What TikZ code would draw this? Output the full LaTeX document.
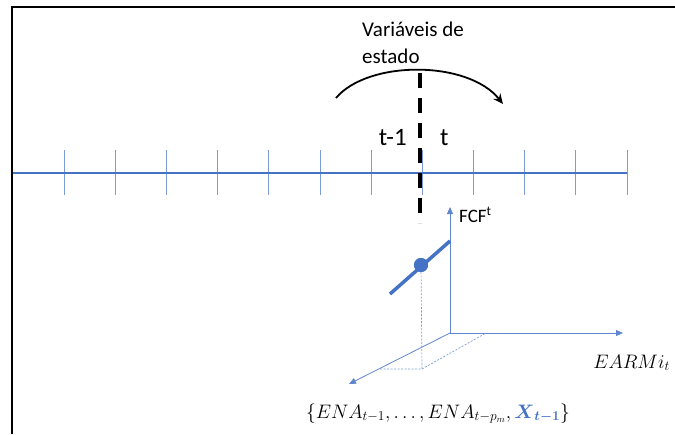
\documentclass[tikz,border=0pt]{standalone}
\usepackage{amsmath}
\usepackage{graphicx}
\usepackage{fontspec}
\setmainfont{Carlito}
\usetikzlibrary{arrows.meta}
\definecolor{ofblue}{HTML}{4472C4}
\tikzset{
  frame/.style={line width=2pt, black},
  timeline/.style={line width=2.4pt, ofblue},
  tick/.style={line width=0.7pt, ofblue!70},
  axis/.style={line width=0.8pt, ofblue!85, -{Triangle[length=7pt,width=6pt]}},
  proj/.style={line width=0.7pt, ofblue!70, dash pattern=on 2pt off 1.5pt},
  sep/.style={line width=3.5pt, black, dash pattern=on 15pt off 10pt},
  arc/.style={line width=1.8pt, black, -{Stealth[length=10pt,width=9pt]}},
  curve/.style={line width=3.5pt, ofblue},
  lbl/.style={inner sep=0pt, text=black}
}
\begin{document}
\begin{tikzpicture}[x=1pt,y=-1pt]
\useasboundingbox (0,0) rectangle (675,434);
% frame
\coordinate (fbl) at (12,434);
\coordinate (ftl) at (12,7);
\coordinate (ftr) at (675,7);
\draw[frame] (fbl) -- (ftl) -- (ftr);
% timeline
\coordinate (tl0) at (13,173);
\coordinate (tl1) at (627,173);
\foreach \k in {0,...,11} {
  \coordinate (ta\k) at ({64+51.18*\k},150);
  \coordinate (tb\k) at ({64+51.18*\k},195);
  \draw[tick] (ta\k) -- (tb\k);
}
\draw[timeline] (tl0) -- (tl1);
% state variable arc
\coordinate (arcA) at (336,98);
\coordinate (arcB) at (503,104);
\draw[arc] (arcA) .. controls (368,60) and (468,60) .. (arcB);
% separator
\coordinate (sepT) at (420,73);
\coordinate (sepB) at (420,223);
\draw[sep] (sepT) -- (sepB);
% labels
\node[lbl, anchor=base west, align=left, font=\fontsize{21}{27}\selectfont] (title) at (362,63) {Variáveis de\\estado};
\node[lbl, anchor=base east, font=\fontsize{25}{30}\selectfont] (tm1) at (407,145) {t-1};
\node[lbl, anchor=base west, font=\fontsize{25}{30}\selectfont] (tt) at (440,145) {t};
% axes
\coordinate (O) at (450,333);
\coordinate (yEnd) at (450,207);
\coordinate (xEnd) at (623,333);
\coordinate (zEnd) at (349,384);
\draw[axis] (O) -- (yEnd);
\draw[axis] (O) -- (xEnd);
\draw[axis] (O) -- (zEnd);
\node[lbl, anchor=base west, font=\fontsize{19}{22}\selectfont] (fcf) at (459,222) {FCF\textsuperscript{t}};
\node[lbl, anchor=base east, font=\fontsize{20}{24}\selectfont] (earm) at (670,368) {\scalebox{0.94}{$EARMi_t$}};
\node[lbl, anchor=base, font=\fontsize{20}{24}\selectfont] (set) at (438,418) {\scalebox{0.94}{$\{ENA_{t-1},\ldots,ENA_{t-p_m},\textcolor{ofblue}{\boldsymbol{X}_{\boldsymbol{t-1}}}\}$}};
% projection
\coordinate (P) at (422,369);
\coordinate (Pz) at (380,369);
\coordinate (Px) at (486,333);
\draw[proj] (Pz) -- (P) -- (Px);
% curve and point
\coordinate (c0) at (390,294);
\coordinate (c1) at (450,241);
\node[circle, fill=ofblue, inner sep=0pt, minimum size=14pt] (pt) at (421,265) {};
\draw[proj] (pt.center) -- (P);
\draw[curve] (c0) -- (c1);
\node[circle, fill=ofblue, inner sep=0pt, minimum size=14pt] at (pt) {};
\end{tikzpicture}
\end{document}
